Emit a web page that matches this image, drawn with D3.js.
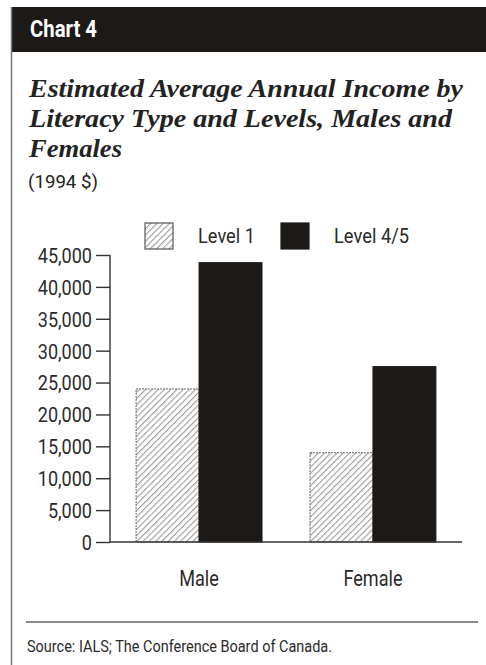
<!DOCTYPE html>
<html><head><meta charset="utf-8">
<script src="https://cdn.jsdelivr.net/npm/d3@7"></script>
<style>
html,body{margin:0;padding:0;background:#fff;}
svg{display:block;}
.narrow{font-family:Roboto,"Liberation Sans",sans-serif;}
</style></head>
<body><svg id="c" width="486" height="665"></svg>
<script>
const categories = ["Male", "Female"];
const seriesNames = ["Level 1", "Level 4/5"];
const level1 = [24000, 14000];
const level45 = [43800, 27500];
const yTicks = [0,5000,10000,15000,20000,25000,30000,35000,40000,45000];

const svg = d3.select("#c");
const INK = "#1c1917";

// squeeze a text element to a target width (condensed look)
function fit(sel, w){ sel.attr("textLength", w).attr("lengthAdjust","spacingAndGlyphs"); }
function condense(sel, f){ sel.each(function(){ const n=this.getComputedTextLength(); d3.select(this).attr("textLength", n*f).attr("lengthAdjust","spacingAndGlyphs"); }); }

const defs = svg.append("defs");
const pat = defs.append("pattern").attr("id","hatch").attr("patternUnits","userSpaceOnUse")
  .attr("width",4.4).attr("height",4.4).attr("patternTransform","rotate(45)");
pat.append("rect").attr("width",4.4).attr("height",4.4).attr("fill","#fff");
pat.append("line").attr("x1",0.6).attr("y1",0).attr("x2",0.6).attr("y2",4.4)
  .attr("stroke","#9a9a9a").attr("stroke-width",1.1);

// frame
svg.append("rect").attr("x",11).attr("y",7).attr("width",475).attr("height",45).attr("fill",INK);
svg.append("line").attr("x1",11.5).attr("x2",11.5).attr("y1",7).attr("y2",665).attr("stroke","#777").attr("stroke-width",1.5);
svg.append("text").attr("x",30).attr("y",37).attr("fill","#fff").attr("class","narrow")
  .attr("font-size",23).attr("font-weight","bold").text("Chart 4").call(fit,67);

const titleLines = ["Estimated Average Annual Income by","Literacy Type and Levels, Males and","Females"];
const titleW = [434, 423, 93];
svg.append("g").selectAll("text").data(titleLines).join("text")
  .attr("x",29).attr("y",(d,i)=>97+i*30)
  .attr("font-family","'Liberation Serif','DejaVu Serif',serif")
  .attr("font-style","italic").attr("font-weight","bold").attr("font-size",25.5)
  .attr("fill","#222").text(d=>d)
  .attr("textLength",(d,i)=>titleW[i]).attr("lengthAdjust","spacingAndGlyphs");
svg.append("text").attr("x",28).attr("y",188).attr("class","narrow").attr("font-size",19).attr("fill","#222").text("(1994 $)").call(fit,70);

// scales
const y = d3.scaleLinear().domain([0,45000]).range([542,255]);
const x0 = d3.scaleBand().domain(categories).range([110,462]).paddingInner(0.276).paddingOuter(0.15);
const x1 = d3.scaleBand().domain(seriesNames).range([0,x0.bandwidth()]);

const data = categories.map((c,i)=>({cat:c, vals:[{s:seriesNames[0],v:level1[i]},{s:seriesNames[1],v:level45[i]}]}));
const groups = svg.append("g").selectAll("g").data(data).join("g").attr("transform",d=>`translate(${x0(d.cat)},0)`);
groups.selectAll("rect").data(d=>d.vals).join("rect")
  .attr("x",d=>x1(d.s)).attr("width",x1.bandwidth())
  .attr("y",d=>y(d.v)).attr("height",d=>y(0)-y(d.v))
  .attr("fill",d=>d.s==="Level 1"?"url(#hatch)":INK)
  .attr("stroke",d=>d.s==="Level 1"?"#666":INK).attr("stroke-width",1)
  .attr("stroke-dasharray",d=>d.s==="Level 1"?"2,1":null);

// y axis
const yAxis = d3.axisLeft(y).tickValues(yTicks).tickSize(14).tickPadding(4).tickFormat(d3.format(","));
const ya = svg.append("g").attr("transform","translate(110,0)").call(yAxis);
ya.select(".domain").attr("d","M0,255V542").attr("stroke","#333").attr("stroke-width",1.4);
ya.selectAll(".tick line").attr("stroke","#333").attr("stroke-width",1.4);
ya.selectAll(".tick text").attr("class","narrow").attr("font-size",20.5).attr("fill","#2a2a2a").attr("dy","0.36em").call(condense,0.88);

// x axis baseline
const xa = d3.axisBottom(x0).tickSize(0).tickPadding(29);
const xg = svg.append("g").attr("transform","translate(0,542)").call(xa);
xg.select(".domain").attr("d","M110,0H462").attr("stroke","#333").attr("stroke-width",1.4);
xg.selectAll(".tick text").attr("class","narrow").attr("font-size",21.5).attr("fill","#2a2a2a").call(condense,0.84);

// legend
const leg = svg.append("g");
const legX = [145, 281];
leg.selectAll("rect").data(seriesNames).join("rect")
  .attr("x",(d,i)=>legX[i]).attr("y",223).attr("width",28).attr("height",26)
  .attr("fill",(d,i)=>i===0?"url(#hatch)":INK)
  .attr("stroke",(d,i)=>i===0?"#555":INK).attr("stroke-width",1.2);
leg.selectAll("text").data(seriesNames).join("text")
  .attr("x",(d,i)=>legX[i]+53).attr("y",243).attr("class","narrow").attr("font-size",20.5).attr("fill","#2a2a2a").text(d=>d)
  .attr("textLength",(d,i)=>[57,75][i]).attr("lengthAdjust","spacingAndGlyphs");

// source
svg.append("line").attr("x1",26).attr("x2",478).attr("y1",622).attr("y2",622).attr("stroke","#666").attr("stroke-width",1.3);
svg.append("text").attr("x",27).attr("y",652).attr("class","narrow").attr("font-size",16).attr("fill","#2a2a2a")
  .text("Source: IALS; The Conference Board of Canada.").call(fit,305);
</script></body></html>
